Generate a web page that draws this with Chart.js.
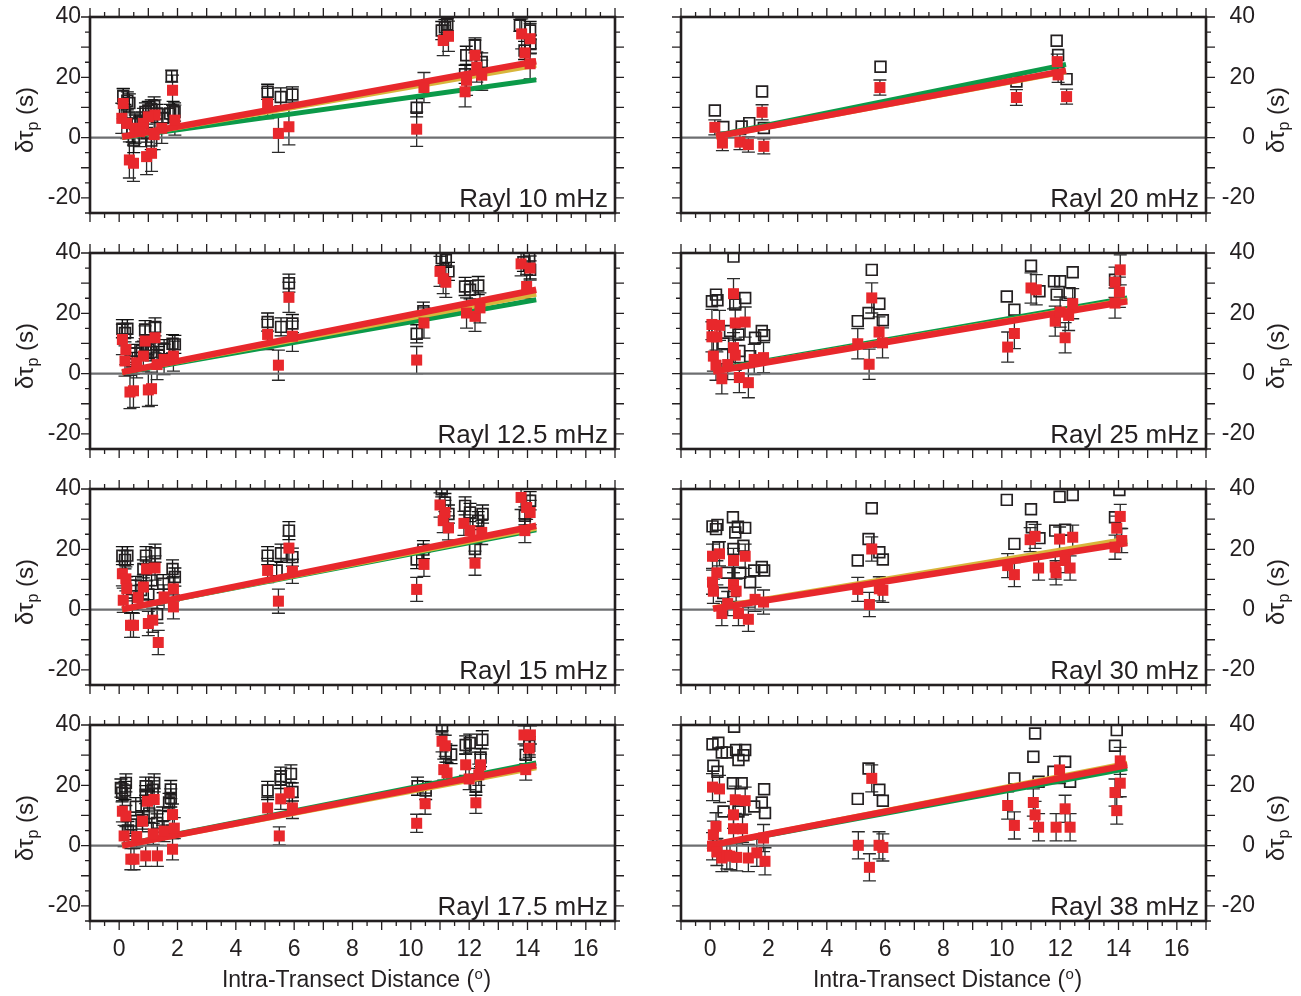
<!DOCTYPE html>
<html>
<head>
<meta charset="utf-8">
<title>Intra-transect delay times</title>
<script src="https://cdn.jsdelivr.net/npm/chart.js@4.4.1/dist/chart.umd.min.js"></script>
<style>
  html, body { margin: 0; padding: 0; background: #ffffff; }
  #fig { position: relative; width: 1301px; height: 996px; overflow: hidden; }
  #fig canvas { position: absolute; }
</style>
</head>
<body>
<div id="fig"></div>
<script>
// Delay-time anomalies vs. intra-transect distance, Rayleigh waves.
// Each row: [distance (deg), delta tau_p (s), error (s)]
// "open" = uncorrected measurements, "filled" = corrected measurements.

const open10 = [
  [0.14,13.7,2.5],[0.28,12.2,3],[0.35,11.5,3],[0.2,8.0,3],[0.45,2.5,4],[0.55,4.5,3],[0.5,-1.0,4],
  [0.8,5.5,3],[0.9,8.5,3],[1.0,9.0,3],[1.1,9.5,3],[1.2,10.5,3],[1.3,8.0,3],[1.5,6.5,3],[1.75,8.0,3],
  [1.85,9.0,3],[1.9,8.5,3],[1.8,20.4,2],[0.95,1.5,3],[1.1,-1.0,3],
  [5.09,15.2,2.5],[5.54,13.5,3],[5.94,14.3,2.5],
  [10.2,9.9,3],[11.06,35.5,3],[11.17,36.6,2.5],[11.25,37.5,2],
  [11.9,27.3,3],[12.2,30.6,2.5],[12.43,25.1,3],[11.86,21.0,3],
  [13.74,37.2,2],[14.09,35.5,3],[13.9,28.9,3],[14.1,31.0,3]
];
const filled10 = [
  [0.14,11.3,5],[0.09,6.4,5],[0.26,4.7,5],[0.35,-7.4,6],[0.49,-8.5,6],[0.54,3.1,5],[0.83,4.7,5],
  [0.94,-6.3,6],[1.11,-5.2,6],[1.23,7.5,5],[1.0,6.9,5],[1.46,3.1,5],[1.83,15.7,5],[1.91,5.8,5],
  [0.7,2.0,5],[1.2,1.0,5],
  [5.09,11.3,5],[5.46,1.4,6.3],[5.82,3.6,6],
  [10.2,2.8,5.7],[10.45,16.6,5],
  [11.11,32.2,5],[11.29,33.6,5],
  [11.86,15.2,5],[11.91,19.0,5],[12.2,27.3,5],[12.26,23.4,5],[12.43,20.7,5],
  [13.8,34.4,5],[14.09,32.8,5],[13.91,28.1,5],[14.09,24.5,5]
];
const trend10 = { x: [0.1, 14.3], green: [0.0, 19.2], gold: [0.1, 24.0], red: [0.3, 25.3] };

const open12 = [
  [0.11,14.9,3],[0.28,14.9,3],[0.2,13.5,3],[0.89,14.6,3],[1.23,15.5,3],[0.54,6.7,3],[0.77,7.5,3],
  [1.0,8.0,3],[1.1,7.2,3],[1.54,8.3,3],[1.83,9.9,3],[1.91,9.7,3],[1.35,6.0,3],[0.45,4.0,3],[0.9,9.5,3],
  [5.09,17.1,3],[5.55,15.5,3],[5.94,16.6,3],[5.82,30.0,3],
  [10.2,13.2,3],[10.43,20.7,3],
  [11.06,38.3,2.5],[11.2,37.7,2.5],[11.29,33.9,3],
  [11.86,28.9,3],[12.03,27.8,3],[12.31,29.2,3],
  [13.86,36.9,3],[14.06,38.8,2.5],[14.09,34.4,3]
];
const filled12 = [
  [0.11,11.3,5],[0.23,8.0,5],[0.2,4.2,5],[0.37,-6.1,5.5],[0.49,-5.7,5.5],[0.89,10.8,5],[1.23,11.9,5],
  [1.0,-5.4,5.5],[1.11,-5.0,5.5],[0.83,5.8,5],[1.54,4.7,5],[1.86,5.8,5],[0.6,3.6,5],[1.3,3.0,5],
  [5.09,13.0,5],[5.46,2.8,5],[5.82,25.3,5],[5.94,12.4,5],
  [10.2,4.5,4.5],[10.45,16.8,5],
  [11.0,33.9,5],[11.2,30.3,5],[11.11,31.5,5],
  [11.91,20.1,5],[12.2,19.0,5],[12.37,21.8,5],
  [13.78,36.4,4],[14.09,35.0,4],[13.97,28.9,4]
];
const trend12 = { x: [0.1, 14.3], green: [0.3, 24.5], gold: [0.4, 26.3], red: [0.5, 27.8] };

const open15 = [
  [0.11,17.9,3],[0.28,17.9,3],[0.2,16.5,3],[0.92,17.9,3],[1.23,18.7,3],[0.83,13.5,3],[1.83,13.5,3],
  [1.91,10.8,3],[1.51,8.6,3],[1.11,9.7,3],[0.57,8.0,3],[0.75,6.5,3],[1.0,5.0,3],[1.3,-1.5,3],[0.45,2.0,3],
  [5.09,17.9,3],[5.55,18.7,3],[5.82,26.2,3],[5.94,17.4,3],[5.4,13.0,3],
  [10.2,16.6,3],[10.43,19.9,3],
  [11.06,39.9,2.5],[11.17,35.5,3],[11.29,31.7,3],
  [11.86,34.4,3],[12.03,32.2,3],[12.46,31.7,3],[12.31,29.5,3],[12.2,20.1,3],
  [13.91,31.1,3],[14.09,36.1,3]
];
const filled15 = [
  [0.11,11.9,4],[0.23,10.2,4],[0.26,6.9,4],[0.14,3.1,4],[0.39,-5.2,4],[0.49,-5.2,4],[0.83,7.5,4],
  [1.23,13.8,4],[0.94,13.5,4],[1.0,-4.6,4],[1.15,-3.5,4],[1.34,-10.9,4],[1.54,4.2,4],[1.86,6.9,4],
  [1.86,0.9,4],[0.65,4.0,4],
  [5.09,13.0,4],[5.46,2.8,4],[5.82,20.4,4],[5.94,12.7,4],
  [10.2,6.7,4],[10.45,15.0,4],
  [11.0,34.7,4],[11.17,32.2,4],[11.11,29.5,4],[11.29,27.1,4],
  [11.82,28.6,4],[12.03,26.2,4],[12.2,15.4,4],[12.43,25.6,4],
  [13.78,37.2,4],[13.97,33.9,4],[14.09,32.2,4],[13.91,26.2,4]
];
const trend15 = { x: [0.1, 14.3], green: [0.0, 26.5], gold: [0.05, 27.0], red: [0.1, 27.8] };

const open17 = [
  [0.06,19.1,3],[0.23,20.8,3],[0.2,18.3,3],[0.1,17.5,3],[0.91,19.7,3],[1.2,20.8,3],[1.15,18.5,3],
  [1.77,18.6,3],[1.77,15.8,3],[1.71,14.3,3],[1.49,9.8,3],[0.91,16.9,3],[0.57,12.9,3],[1.03,10.7,3],
  [0.8,8.5,3],[0.4,7.0,3],[1.3,7.5,3],[0.3,5.0,3],
  [5.09,18.3,3],[5.54,21.9,3],[5.54,23.0,3],[5.89,23.8,3],[5.94,17.8,3],
  [10.23,19.7,3],[10.51,18.3,3],
  [11.07,39.5,2.5],[11.2,30.7,3],[11.38,30.2,3],
  [11.88,33.4,3],[12.02,34.0,3],[12.45,35.1,3],[12.39,29.2,3],[12.23,19.7,3],
  [13.94,30.1,3],[14.06,33.1,3]
];
const filled17 = [
  [0.11,11.4,3.5],[0.23,9.8,3.5],[0.17,3.2,3.5],[0.4,-4.5,3.5],[0.51,-4.5,3.5],[0.8,8.1,3.5],
  [0.97,14.7,3.5],[1.2,15.3,3.5],[0.91,-3.4,3.5],[1.31,-3.4,3.5],[1.17,3.9,3.5],[1.54,4.8,3.5],
  [1.83,10.3,3.5],[1.83,-1.2,3.5],[1.89,5.8,3.5],[0.6,3.0,3.5],
  [5.09,12.5,3.5],[5.49,3.2,3],[5.54,15.5,3.5],[5.83,17.5,3.5],[5.94,12.5,3.5],
  [10.2,7.4,3],[10.49,13.9,3.5],
  [11.07,34.6,3.5],[11.18,33.1,3.5],[11.13,25.2,3.5],[11.24,24.1,3.5],
  [11.88,26.8,3.5],[12.0,22.1,3.5],[12.39,26.8,3.5],[12.33,23.5,3.5],[12.23,14.2,3.5],
  [13.88,36.7,3],[14.1,36.7,3],[14.06,32.3,3],[13.94,25.2,3.5]
];
const trend17 = { x: [0.1, 14.3], green: [0.2, 27.4], gold: [-0.1, 25.8], red: [0.0, 26.6] };

const open20 = [
  [0.16,9.0],[0.45,3.5],[1.08,3.7],[1.34,4.8],[1.78,15.3],[1.84,3.2],[5.84,23.5],
  [10.5,18.6],[11.88,32.1],[11.93,27.4],[12.22,19.4]
];
const filled20 = [
  [0.16,3.4,2.5],[0.42,-1.8,2.5],[1.02,-1.5,2.5],[1.31,-2.3,2.5],[1.78,8.4,2.5],[1.84,-2.9,2.5],
  [5.82,16.6,2.5],[10.5,13.3,2.6],[11.9,25.2,2.5],[11.93,20.8,2.5],[12.22,13.6,2.5]
];
const trend20 = { x: [0.2, 12.2], green: [0.7, 24.3], gold: [0.3, 21.8], red: [0.4, 22.2] };

const open25 = [
  [0.06,24.0],[0.2,26.2],[0.25,24.3],[0.8,38.8],[0.86,22.9],[1.2,25.1],[0.68,14.1],[0.97,13.0],
  [1.54,11.9],[1.77,14.1],[1.85,12.7],[0.45,10.0],[1.37,5.8],[0.15,13.0],[1.0,7.5],
  [5.54,34.4],[5.06,17.4],[5.43,20.1],[5.8,23.2],[5.92,17.7],
  [10.17,25.6],[10.43,21.2],[11.0,35.8],[11.29,27.3],[11.79,30.6],[12.0,30.6],[11.88,26.2],
  [12.43,33.6],[12.32,26.7],[13.88,31.1]
];
const filled25 = [
  [0.06,16.3,5],[0.32,16.0,5],[0.06,12.2,5],[0.23,12.2,5],[0.11,5.8,5],[0.2,2.8,5],[0.4,-1.7,5],
  [0.8,26.5,5],[0.86,16.8,5],[1.2,17.1,5],[0.8,8.6,5],[0.86,6.1,5],[1.0,-1.3,5],[1.31,-3.0,5],
  [1.51,4.7,5],[1.83,5.3,5],[0.6,3.0,5],
  [5.06,9.9,5],[5.45,3.1,5],[5.54,25.1,5],[5.79,13.8,5],[5.91,10.2,5],
  [10.2,8.8,5],[10.43,13.3,5],[11.0,28.4,5],[11.18,27.8,5],[11.83,17.4,5],[12.0,20.4,5],
  [12.17,11.9,5],[12.29,19.3,5],[12.43,23.2,5],
  [14.06,34.4,5],[13.88,30.3,5],[14.03,27.0,5],[13.88,23.4,5]
];
const trend25 = { x: [0.1, 14.3], green: [1.2, 25.1], gold: [0.9, 24.4], red: [0.7, 24.0] };

const open30 = [
  [0.08,27.6],[0.25,28.1],[0.2,26.7],[0.78,30.6],[0.86,25.6],[1.2,27.1],[0.95,27.5],[0.28,20.7],
  [0.8,20.1],[1.14,21.2],[0.57,12.2],[1.03,12.2],[1.51,13.0],[1.77,14.1],[1.85,13.0],[1.37,9.1],[0.45,5.5],
  [5.54,33.6],[5.43,23.4],[5.06,16.3],[5.8,19.0],[5.92,16.6],
  [10.17,36.4],[10.43,21.8],[11.0,33.3],[11.03,27.3],[11.29,23.7],[11.83,26.2],[11.98,37.4],
  [12.17,26.5],[12.43,38.0],[13.88,30.6],[14.03,39.7]
];
const filled30 = [
  [0.08,17.7,4],[0.32,18.5,4],[0.23,12.2,4],[0.08,9.1,4],[0.11,6.1,4],[0.4,-1.3,4],[0.8,16.3,4],
  [1.2,17.7,4],[0.8,8.3,4],[0.89,6.1,4],[0.97,-1.3,4],[1.31,-3.2,4],[1.54,3.4,4],[1.83,2.5,4],[0.6,2.0,4],
  [5.06,6.7,4],[5.46,1.7,4],[5.54,20.1,4],[5.8,6.9,4],[5.92,6.4,4],
  [10.2,14.6,4],[10.43,11.6,4],[10.97,23.2,4],[11.14,24.3,4],[11.26,13.8,4],[11.83,14.1,4],
  [11.86,12.2,4],[11.98,23.4,4],[12.17,16.3,4],[12.34,13.8,4],[12.43,24.0,4],
  [14.06,30.9,4],[13.94,27.0,4],[14.11,22.9,4],[13.88,20.7,4]
];
const trend30 = { x: [0.1, 14.3], green: [0.5, 22.5], gold: [0.6, 23.4], red: [0.3, 22.1] };

const open38 = [
  [0.08,33.6],[0.28,34.1],[0.11,26.5],[0.25,24.5],[0.4,30.9],[0.57,30.9],[0.82,39.4],[0.89,31.7],
  [1.2,31.7],[0.97,28.4],[1.14,30.0],[0.78,20.7],[1.08,20.7],[0.46,11.3],[0.97,11.3],[1.51,13.0],
  [1.77,14.3],[1.85,18.7],[1.88,10.8],
  [5.43,25.6],[5.06,15.5],[5.8,18.5],[5.92,14.9],
  [10.43,22.3],[11.14,37.2],[11.08,29.5],[11.26,21.2],[11.77,24.5],[12.17,27.8],[12.34,21.2],
  [13.94,38.3],[13.88,33.1]
];
const filled38 = [
  [0.08,19.4,4.5],[0.32,18.8,4.5],[0.2,6.4,4.5],[0.11,3.6,4.5],[0.08,-0.2,4.5],[0.23,-2.1,4.5],
  [0.4,-4.1,4.5],[0.57,-3.2,4.5],[0.8,10.2,4.5],[0.86,15.2,4.5],[1.2,14.9,4.5],[1.11,5.6,4.5],
  [0.8,5.6,4.5],[0.68,-3.5,4.5],[0.91,-3.9,4.5],[1.31,-4.1,4.5],[1.6,-2.4,4.5],[1.88,-5.2,4.5],[1.83,2.5,4.5],
  [5.08,0.1,4.5],[5.46,-7.2,4.5],[5.54,22.3,4.5],[5.79,0.1,4.5],[5.92,-0.6,4.5],
  [10.2,13.3,4.5],[10.43,6.7,4.5],[11.08,14.3,4.5],[11.14,10.2,4.5],[11.26,6.1,4.5],[11.86,6.1,4.5],
  [11.98,25.1,4.5],[12.17,12.2,4.5],[12.34,6.1,4.5],
  [14.06,28.1,4.5],[14.06,20.7,4.5],[13.88,17.6,4.5],[13.94,11.6,4.5]
];
const trend38 = { x: [0.1, 14.3], green: [0.1, 25.6], gold: [0.4, 27.3], red: [0.3, 26.7] };

const xTickLabels = [0, 2, 4, 6, 8, 10, 12, 14, 16];
const yTickLabels = [-20, 0, 20, 40];

// ---- styling ----
const FONT = '"Liberation Sans", Arial, Helvetica, sans-serif';
const INK = '#231f20';
const RED = '#e8282c';
const GREEN = '#0b9a49';
const GOLD = '#d8b63c';
const ZERO = '#6d6e70';

const X_MIN = -1, X_MAX = 17, Y_MIN = -25, Y_MAX = 40;
const PLOT_W = 525, PLOT_H = 196;
const COL_LEFT = [90, 681];
const ROW_TOP = [17, 253, 489, 725];

const panels = [
  { label: 'Rayl 10 mHz',   open: open10, filled: filled10, trend: trend10, openBars: true,  col: 0, row: 0 },
  { label: 'Rayl 20 mHz',   open: open20, filled: filled20, trend: trend20, openBars: false, col: 1, row: 0 },
  { label: 'Rayl 12.5 mHz', open: open12, filled: filled12, trend: trend12, openBars: true,  col: 0, row: 1 },
  { label: 'Rayl 25 mHz',   open: open25, filled: filled25, trend: trend25, openBars: false, col: 1, row: 1 },
  { label: 'Rayl 15 mHz',   open: open15, filled: filled15, trend: trend15, openBars: true,  col: 0, row: 2 },
  { label: 'Rayl 30 mHz',   open: open30, filled: filled30, trend: trend30, openBars: false, col: 1, row: 2 },
  { label: 'Rayl 17.5 mHz', open: open17, filled: filled17, trend: trend17, openBars: true,  col: 0, row: 3 },
  { label: 'Rayl 38 mHz',   open: open38, filled: filled38, trend: trend38, openBars: false, col: 1, row: 3 }
];

const toPoints = rows => rows.map(r => ({ x: r[0], y: r[1] }));
const toErrors = rows => rows.map(r => r[2] || 0);
const toLine = (t, key) => [{ x: t.x[0], y: t[key][0] }, { x: t.x[1], y: t[key][1] }];

// vertical error bars with caps, drawn beneath the markers
const errorBars = {
  id: 'errorBars',
  beforeDatasetsDraw(chart) {
    const { ctx, chartArea: a, scales: { x, y } } = chart;
    ctx.save();
    ctx.beginPath();
    ctx.rect(a.left, a.top, a.right - a.left, a.bottom - a.top);
    ctx.clip();
    chart.data.datasets.forEach(ds => {
      if (!ds.errorBars) return;
      ctx.strokeStyle = ds.barColor;
      ctx.lineWidth = 1.3;
      ds.data.forEach((p, i) => {
        const e = ds.errorBars[i];
        if (!e) return;
        const px = x.getPixelForValue(p.x);
        const lo = y.getPixelForValue(p.y - e);
        const hi = y.getPixelForValue(p.y + e);
        ctx.beginPath();
        ctx.moveTo(px, lo); ctx.lineTo(px, hi);
        ctx.moveTo(px - 6.5, lo); ctx.lineTo(px + 6.5, lo);
        ctx.moveTo(px - 6.5, hi); ctx.lineTo(px + 6.5, hi);
        ctx.stroke();
      });
    });
    ctx.restore();
  }
};

function drawYTitle(ctx, bx, cy) {
  ctx.save();
  ctx.translate(bx, cy);
  ctx.rotate(-Math.PI / 2);
  ctx.fillStyle = INK;
  ctx.textAlign = 'left';
  ctx.textBaseline = 'alphabetic';
  const big = `24px ${FONT}`, small = `16px ${FONT}`;
  ctx.font = big;
  const w1 = ctx.measureText('\u03b4\u03c4').width;
  const w3 = ctx.measureText(' (s)').width;
  ctx.font = small;
  const w2 = ctx.measureText('p').width;
  const x0 = -(w1 + w2 + w3) / 2;
  ctx.font = big;  ctx.fillText('\u03b4\u03c4', x0, 0);
  ctx.font = small; ctx.fillText('p', x0 + w1, 5);
  ctx.font = big;  ctx.fillText(' (s)', x0 + w1 + w2, 0);
  ctx.restore();
}

function drawXTitle(ctx, cx, by) {
  ctx.save();
  ctx.fillStyle = INK;
  ctx.textAlign = 'left';
  ctx.textBaseline = 'alphabetic';
  const main = 'Intra-Transect Distance (';
  ctx.font = `23px ${FONT}`;
  const w1 = ctx.measureText(main).width;
  const w3 = ctx.measureText(')').width;
  ctx.font = `15px ${FONT}`;
  const w2 = ctx.measureText('o').width + 1;
  const x0 = cx - (w1 + w2 + w3) / 2;
  ctx.font = `23px ${FONT}`; ctx.fillText(main, x0, by);
  ctx.font = `15px ${FONT}`; ctx.fillText('o', x0 + w1 + 0.5, by - 8);
  ctx.font = `23px ${FONT}`; ctx.fillText(')', x0 + w1 + w2, by);
  ctx.restore();
}

function decor(p) {
  return {
    id: 'decor',
    afterDatasetsDraw(chart) {
      const { ctx, chartArea: a, scales: { x, y } } = chart;
      ctx.save();
      ctx.strokeStyle = INK;
      ctx.lineWidth = 1.3;
      ctx.beginPath();
      for (let k = 0; k <= (X_MAX - X_MIN) * 2; k++) {
        const v = X_MIN + k * 0.5;
        const px = x.getPixelForValue(v);
        const len = Number.isInteger(v) ? 9 : 5;
        ctx.moveTo(px, a.bottom); ctx.lineTo(px, a.bottom + len);
        ctx.moveTo(px, a.top); ctx.lineTo(px, a.top - len);
      }
      for (let v = Y_MIN; v <= Y_MAX; v += 5) {
        const py = y.getPixelForValue(v);
        const len = v % 10 === 0 ? 9 : 5;
        ctx.moveTo(a.left, py); ctx.lineTo(a.left - len, py);
        ctx.moveTo(a.right, py); ctx.lineTo(a.right + len, py);
      }
      ctx.stroke();
      ctx.lineWidth = 2.6;
      ctx.strokeRect(a.left, a.top, a.right - a.left, a.bottom - a.top);
      ctx.restore();
    },
    afterDraw(chart) {
      const { ctx, chartArea: a } = chart;
      ctx.save();
      ctx.fillStyle = INK;
      ctx.font = `26px ${FONT}`;
      ctx.textAlign = 'right';
      ctx.textBaseline = 'alphabetic';
      ctx.fillText(p.label, a.right - 7, a.bottom - 6);
      ctx.restore();
      const midY = (a.top + a.bottom) / 2 + 5;
      if (p.col === 0) drawYTitle(ctx, a.left - 57, midY);
      else drawYTitle(ctx, a.right + 78, midY);
      if (p.row === 3) drawXTitle(ctx, (a.left + a.right) / 2 + 4, a.bottom + 66);
    }
  };
}

const fig = document.getElementById('fig');

panels.forEach(p => {
  const isBottom = p.row === 3;
  const padTop = 14;
  const yAxisW = p.col === 0 ? 60 : 49;
  const padLeft = p.col === 0 ? 30 : 12;
  const padRight = p.col === 0 ? 12 : 46;
  const xAxisH = isBottom ? 45 : 0;
  const padBottom = isBottom ? 30 : 14;
  const width = padLeft + PLOT_W + padRight + yAxisW;
  const height = padTop + PLOT_H + xAxisH + padBottom;
  const left = p.col === 0 ? COL_LEFT[0] - padLeft - yAxisW : COL_LEFT[1] - padLeft;
  const top = ROW_TOP[p.row] - padTop;

  const canvas = document.createElement('canvas');
  canvas.width = width;
  canvas.height = height;
  canvas.style.left = left + 'px';
  canvas.style.top = top + 'px';
  canvas.style.width = width + 'px';
  canvas.style.height = height + 'px';
  fig.appendChild(canvas);

  new Chart(canvas, {
    type: 'scatter',
    data: {
      datasets: [
        { label: 'corrected', data: toPoints(p.filled), errorBars: toErrors(p.filled), barColor: '#2b2b2b',
          pointStyle: 'rect', pointRadius: 7.8, pointHoverRadius: 0, backgroundColor: RED, borderWidth: 0, order: 1 },
        { label: 'fit red', data: toLine(p.trend, 'red'), showLine: true, borderColor: RED, borderWidth: 6.5,
          pointRadius: 0, pointHoverRadius: 0, borderCapStyle: 'butt', order: 2 },
        { label: 'fit gold', data: toLine(p.trend, 'gold'), showLine: true, borderColor: GOLD, borderWidth: 5,
          pointRadius: 0, pointHoverRadius: 0, borderCapStyle: 'butt', order: 3 },
        { label: 'fit green', data: toLine(p.trend, 'green'), showLine: true, borderColor: GREEN, borderWidth: 5,
          pointRadius: 0, pointHoverRadius: 0, borderCapStyle: 'butt', order: 4 },
        { label: 'uncorrected', data: toPoints(p.open), errorBars: p.openBars ? toErrors(p.open) : null,
          barColor: '#111111', pointStyle: 'rect', pointRadius: 7.6, pointHoverRadius: 0,
          backgroundColor: 'rgba(0,0,0,0)', borderColor: INK, borderWidth: 1.7, order: 5 },
        { label: 'zero', data: [{ x: X_MIN, y: 0 }, { x: X_MAX, y: 0 }], showLine: true, borderColor: ZERO,
          borderWidth: 2.2, pointRadius: 0, pointHoverRadius: 0, order: 6 }
      ]
    },
    options: {
      responsive: false,
      animation: false,
      devicePixelRatio: 1,
      events: [],
      layout: { autoPadding: false, padding: { left: padLeft, right: padRight, top: padTop, bottom: padBottom } },
      plugins: { legend: { display: false }, tooltip: { enabled: false } },
      scales: {
        x: {
          type: 'linear', min: X_MIN, max: X_MAX, position: 'bottom', display: isBottom,
          grid: { display: false, drawTicks: false }, border: { display: false },
          ticks: {
            autoSkip: false, maxRotation: 0, minRotation: 0, padding: 15, color: INK,
            font: { family: FONT, size: 23 }
          },
          afterBuildTicks: s => { s.ticks = xTickLabels.map(v => ({ value: v })); },
          afterFit: s => { s.height = xAxisH; s.paddingLeft = 0; s.paddingRight = 0; }
        },
        y: {
          type: 'linear', min: Y_MIN, max: Y_MAX, position: p.col === 0 ? 'left' : 'right',
          grid: { display: false, drawTicks: false }, border: { display: false },
          ticks: {
            autoSkip: false, padding: 9, color: INK,
            crossAlign: p.col === 0 ? 'near' : 'far',
            font: { family: FONT, size: 23, lineHeight: 0.2 }
          },
          afterBuildTicks: s => { s.ticks = yTickLabels.map(v => ({ value: v })); },
          afterFit: s => { s.width = yAxisW; s.paddingTop = 0; s.paddingBottom = 0; }
        }
      }
    },
    plugins: [errorBars, decor(p)]
  });
});
</script>
</body>
</html>
